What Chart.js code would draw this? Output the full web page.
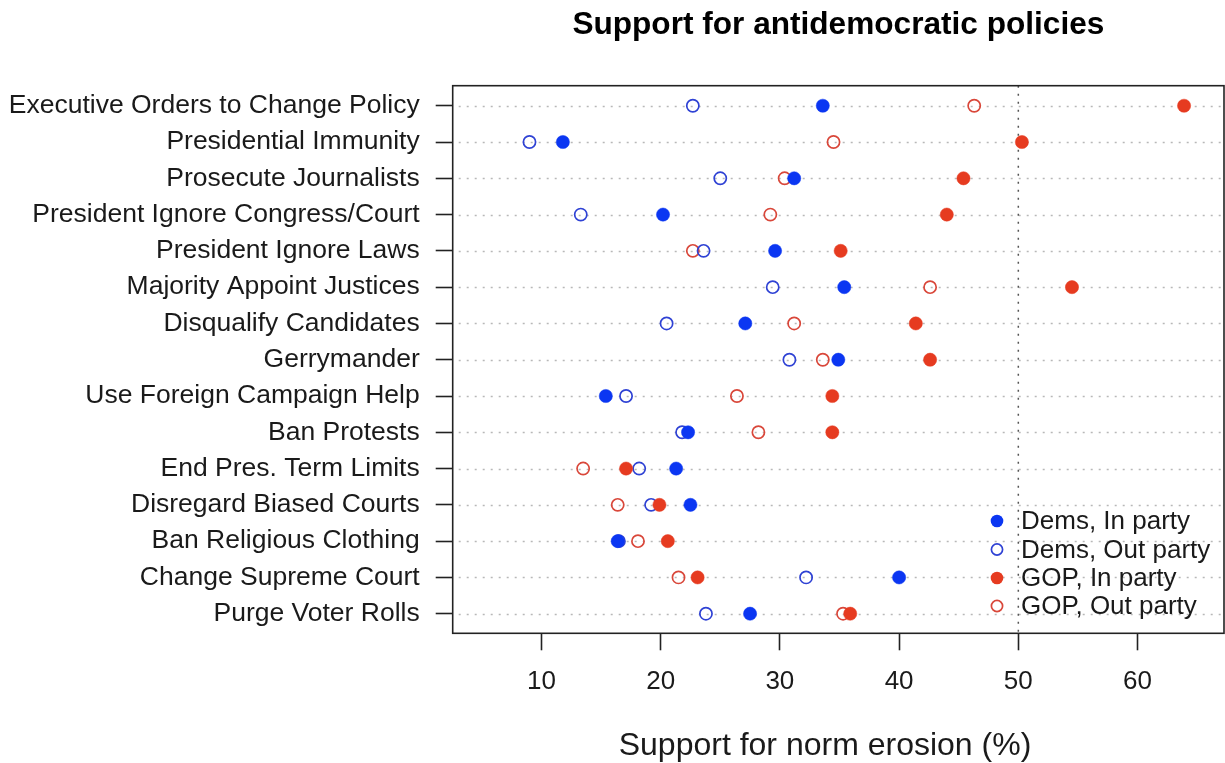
<!DOCTYPE html>
<html>
<head>
<meta charset="utf-8">
<script src="https://cdn.jsdelivr.net/npm/chart.js@4.4.1/dist/chart.umd.min.js"></script>
<style>
  html, body { margin: 0; padding: 0; background: #ffffff; overflow: hidden; }
  #wrap { position: relative; width: 1225px; height: 763px; }
</style>
</head>
<body>
<div id="wrap"><canvas id="c"></canvas></div>
<script>
// ---- data ----
const categories = [
  "Executive Orders to Change Policy",
  "Presidential Immunity",
  "Prosecute Journalists",
  "President Ignore Congress/Court",
  "President Ignore Laws",
  "Majority Appoint Justices",
  "Disqualify Candidates",
  "Gerrymander",
  "Use Foreign Campaign Help",
  "Ban Protests",
  "End Pres. Term Limits",
  "Disregard Biased Courts",
  "Ban Religious Clothing",
  "Change Supreme Court",
  "Purge Voter Rolls"
];
const demsIn  = [33.6, 11.8, 31.2, 20.2, 29.6, 35.4, 27.1, 34.9, 15.4, 22.3, 21.3, 22.5, 16.4, 40.0, 27.5];
const demsOut = [22.7,  9.0, 25.0, 13.3, 23.6, 29.4, 20.5, 30.8, 17.1, 21.8, 18.2, 19.2, 16.5, 32.2, 23.8];
const gopIn   = [63.9, 50.3, 45.4, 44.0, 35.1, 54.5, 41.4, 42.6, 34.4, 34.4, 17.1, 19.9, 20.6, 23.1, 35.9];
const gopOut  = [46.3, 34.5, 30.4, 29.2, 22.7, 42.6, 31.2, 33.6, 26.4, 28.2, 13.5, 16.4, 18.1, 21.5, 35.3];
const seriesNames = ["Dems, In party", "Dems, Out party", "GOP, In party", "GOP, Out party"];
const xTickValues = [10, 20, 30, 40, 50, 60];
const referenceValue = 50;
const titleText = "Support for antidemocratic policies";
const xAxisTitle = "Support for norm erosion (%)";

const BLUE_FILL = "#0b36f2";
const BLUE_RING = "#2f42d4";
const RED_FILL = "#e63b20";
const RED_RING = "#d9473a";
const FONT = "'Liberation Sans', Arial, Helvetica, sans-serif";

function pts(arr) { return arr.map((v, i) => ({ x: v, y: i + 1 })); }

const datasets = [
  { label: seriesNames[0], data: pts(demsIn), pointStyle: "circle", pointRadius: 6.6, pointBackgroundColor: BLUE_FILL, pointBorderColor: BLUE_FILL, pointBorderWidth: 0.5, order: 0 },
  { label: seriesNames[1], data: pts(demsOut), pointStyle: "circle", pointRadius: 6.1, pointBackgroundColor: "rgba(0,0,0,0)", pointBorderColor: BLUE_RING, pointBorderWidth: 1.7, order: 2 },
  { label: seriesNames[2], data: pts(gopIn), pointStyle: "circle", pointRadius: 6.6, pointBackgroundColor: RED_FILL, pointBorderColor: RED_FILL, pointBorderWidth: 0.5, order: 1 },
  { label: seriesNames[3], data: pts(gopOut), pointStyle: "circle", pointRadius: 6.1, pointBackgroundColor: "rgba(0,0,0,0)", pointBorderColor: RED_RING, pointBorderWidth: 1.7, order: 3 }
];

const decor = {
  id: "decor",
  beforeDatasetsDraw(chart) {
    const { ctx, chartArea: a, scales } = chart;
    ctx.save();
    ctx.lineWidth = 1.5;
    ctx.setLineDash([2, 6]);
    ctx.strokeStyle = "#b8b8b8";
    for (let i = 1; i <= categories.length; i++) {
      const y = Math.round(scales.y.getPixelForValue(i)) + 0.5;
      ctx.beginPath();
      ctx.moveTo(a.left + 6, y);
      ctx.lineTo(a.right, y);
      ctx.stroke();
    }
    const xr = scales.x.getPixelForValue(referenceValue);
    ctx.strokeStyle = "#555555";
    ctx.beginPath();
    ctx.moveTo(xr, a.top);
    ctx.lineTo(xr, a.bottom);
    ctx.stroke();
    ctx.restore();
  },
  afterDatasetsDraw(chart) {
    const { ctx, chartArea: a } = chart;
    ctx.save();
    ctx.setLineDash([]);
    ctx.lineWidth = 1.6;
    ctx.strokeStyle = "#222222";
    ctx.strokeRect(a.left, a.top, a.right - a.left, a.bottom - a.top);

    // legend
    const lx = 997, tx = 1021, ys = [521, 549.5, 578, 606];
    ctx.font = "26px " + FONT;
    ctx.textAlign = "left";
    ctx.textBaseline = "middle";
    datasets.forEach((d, i) => {
      ctx.beginPath();
      if (d.pointBackgroundColor !== "rgba(0,0,0,0)") {
        ctx.fillStyle = d.pointBackgroundColor;
        ctx.arc(lx, ys[i], 6.3, 0, Math.PI * 2);
        ctx.fill();
      } else {
        ctx.strokeStyle = d.pointBorderColor;
        ctx.lineWidth = 1.7;
        ctx.arc(lx, ys[i], 5.6, 0, Math.PI * 2);
        ctx.stroke();
      }
      ctx.fillStyle = "#1a1a1a";
      ctx.fillText(d.label, tx, ys[i] + 1);
    });

    // titles
    const cx = (a.left + a.right) / 2;
    ctx.fillStyle = "#000000";
    ctx.textAlign = "center";
    ctx.textBaseline = "alphabetic";
    ctx.font = "bold 31.6px " + FONT;
    ctx.fillText(titleText, cx, 34);
    ctx.font = "32px " + FONT;
    ctx.fillStyle = "#1a1a1a";
    ctx.fillText(xAxisTitle, 825, 755);
    ctx.restore();
  }
};

new Chart(document.getElementById("c"), {
  type: "scatter",
  data: { datasets },
  plugins: [decor],
  options: {
    responsive: true,
    maintainAspectRatio: false,
    animation: false,
    layout: { autoPadding: false, padding: { top: 85.7, right: 1, left: 0, bottom: 0 } },
    plugins: { legend: { display: false }, title: { display: false }, tooltip: { enabled: false } },
    scales: {
      x: {
        type: "linear",
        min: 2.56,
        max: 67.25,
        afterBuildTicks(scale) { scale.ticks = xTickValues.map(v => ({ value: v })); },
        afterFit(scale) { scale.height = 763 - 633.3; scale.paddingLeft = 0; scale.paddingRight = 0; },
        grid: { display: true, drawOnChartArea: false, drawTicks: true, tickLength: 17, tickColor: "#222222", tickWidth: 1.6 },
        border: { display: false },
        ticks: { color: "#1a1a1a", font: { family: FONT, size: 26 }, padding: 16, maxRotation: 0, autoSkip: false }
      },
      y: {
        type: "linear",
        reverse: true,
        min: 0.448,
        max: 15.54,
        afterBuildTicks(scale) { scale.ticks = categories.map((c, i) => ({ value: i + 1 })); },
        afterFit(scale) { scale.width = 452.7; scale.paddingTop = 0; scale.paddingBottom = 0; },
        grid: { display: true, drawOnChartArea: false, drawTicks: true, tickLength: 17, tickColor: "#222222", tickWidth: 1.6 },
        border: { display: false },
        ticks: {
          color: "#1a1a1a",
          font: { family: FONT, size: 26.5 },
          padding: 16,
          autoSkip: false,
          callback: (v) => categories[Math.round(v) - 1] || ""
        }
      }
    }
  }
});
</script>
</body>
</html>
